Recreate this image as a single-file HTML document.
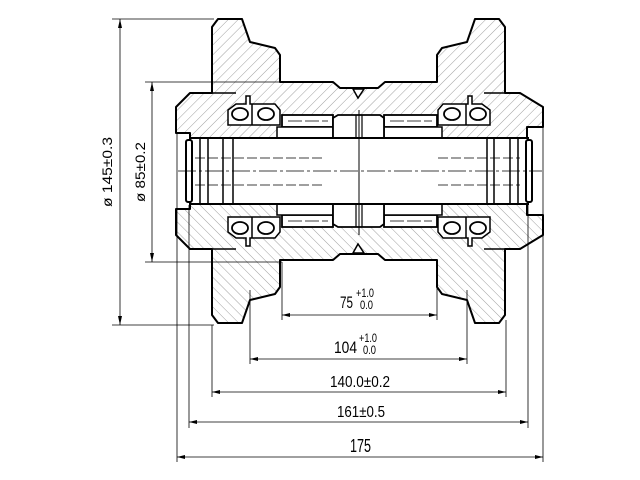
<!DOCTYPE html>
<html><head><meta charset="utf-8"><style>
html,body{margin:0;padding:0;background:#fff}
svg{display:block}
text{font-family:"Liberation Sans",sans-serif;fill:#000}
</style></head><body>
<svg width="640" height="480" viewBox="0 0 640 480" xmlns="http://www.w3.org/2000/svg">
<defs>
<pattern id="h" width="7" height="7" patternUnits="userSpaceOnUse" patternTransform="rotate(45)">
<line x1="0" y1="0" x2="0" y2="7" stroke="#888" stroke-width="0.8"/>
</pattern>
<g id="half">
  <path d="M212,27 L218,19 L242,19 L250,42 L275,48 L280,55 L280,82 L333,82 L340,88 L378,88 L385,82 L437,82 L437,55 L442,48 L467,42 L475,19 L499,19 L505,27 L505,93 L520,93 L543,107 L543,127 L527,127 L527,138 L190,138 L190,133 L176,133 L176,107 L190,93 L212,93 Z" fill="url(#h)" stroke="#000" stroke-width="2" stroke-linejoin="round"/>
  <line x1="212" y1="93" x2="236" y2="93" stroke="#000" stroke-width="1.5"/>
  <line x1="505" y1="93" x2="484" y2="93" stroke="#000" stroke-width="1.5"/>
  <path d="M228,125 L228,110 L236,104 L246,104 L246,96 L250,96 L250,104 L275,104 L280,110 L280,125 Z" fill="#fff" stroke="#000" stroke-width="1.5"/>
  <line x1="252" y1="104" x2="252" y2="125" stroke="#000" stroke-width="1.5"/>
  <ellipse cx="240" cy="114" rx="8" ry="6" fill="#fff" stroke="#000" stroke-width="1.8"/>
  <ellipse cx="266" cy="114" rx="8" ry="6" fill="#fff" stroke="#000" stroke-width="1.8"/>
  <path d="M490,125 L490,110 L482,104 L472,104 L472,96 L468,96 L468,104 L443,104 L438,110 L438,125 Z" fill="#fff" stroke="#000" stroke-width="1.5"/>
  <line x1="466" y1="104" x2="466" y2="125" stroke="#000" stroke-width="1.5"/>
  <ellipse cx="478" cy="114" rx="8" ry="6" fill="#fff" stroke="#000" stroke-width="1.8"/>
  <ellipse cx="452" cy="114" rx="8" ry="6" fill="#fff" stroke="#000" stroke-width="1.8"/>
  <rect x="282" y="115" width="51" height="12" fill="#fff" stroke="#000" stroke-width="1.8"/>
  <rect x="277" y="127" width="56" height="11" fill="#fff" stroke="#000" stroke-width="1.5"/>
  <line x1="288" y1="121" x2="328" y2="121" stroke="#000" stroke-width="0.8" stroke-dasharray="14,3"/>
  <rect x="384" y="115" width="53" height="12" fill="#fff" stroke="#000" stroke-width="1.8"/>
  <rect x="384" y="127" width="58" height="11" fill="#fff" stroke="#000" stroke-width="1.5"/>
  <line x1="390" y1="121" x2="432" y2="121" stroke="#000" stroke-width="0.8" stroke-dasharray="14,3"/>
  <path d="M333,138 L333,118 L338,115 L380,115 L384,118 L384,138 Z" fill="#fff" stroke="#000" stroke-width="1.8"/>
  <line x1="356" y1="115" x2="356" y2="138" stroke="#000" stroke-width="1.2"/>
  <line x1="362" y1="115" x2="362" y2="138" stroke="#000" stroke-width="1.2"/>
  <path d="M353,89 L364,89 L358,98 Z" fill="#fff" stroke="#000" stroke-width="1.5"/>
</g>
</defs>

<use href="#half"/>
<use href="#half" transform="matrix(1,0,0,-1,0,342)"/>

<rect x="190" y="138" width="338" height="66" fill="#fff" stroke="#000" stroke-width="2"/>
<rect x="186" y="140" width="6" height="62" rx="2" fill="#fff" stroke="#000" stroke-width="2"/>
<rect x="526" y="140" width="6" height="62" rx="2" fill="#fff" stroke="#000" stroke-width="2"/>
<g stroke="#000" stroke-width="1.5">
<line x1="200" y1="138" x2="200" y2="204"/><line x1="208" y1="138" x2="208" y2="204"/>
<line x1="223" y1="138" x2="223" y2="204"/><line x1="233" y1="138" x2="233" y2="204"/>
<line x1="487" y1="138" x2="487" y2="204"/><line x1="494" y1="138" x2="494" y2="204"/>
<line x1="510" y1="138" x2="510" y2="204"/><line x1="518" y1="138" x2="518" y2="204"/>
</g>
<g stroke="#000" stroke-width="0.8" stroke-dasharray="10,3" fill="none">
<line x1="195" y1="158" x2="325" y2="158"/><line x1="195" y1="185" x2="325" y2="185"/>
<line x1="438" y1="158" x2="520" y2="158"/><line x1="438" y1="185" x2="520" y2="185"/>
</g>
<line x1="178" y1="171" x2="542" y2="171" stroke="#000" stroke-width="0.8" stroke-dasharray="18,3,3,3"/>
<line x1="359" y1="110" x2="359" y2="235" stroke="#000" stroke-width="1"/>

<g stroke="#000" stroke-width="0.8" fill="none">
<line x1="112" y1="19" x2="214" y2="19"/><line x1="112" y1="325" x2="214" y2="325"/>
<line x1="120" y1="19" x2="120" y2="325"/>
<line x1="145" y1="82" x2="282" y2="82"/><line x1="145" y1="262" x2="282" y2="262"/>
<line x1="152" y1="82" x2="152" y2="262"/>
<line x1="282" y1="262" x2="282" y2="320"/><line x1="437" y1="262" x2="437" y2="320"/>
<line x1="282" y1="315" x2="437" y2="315"/>
<line x1="250" y1="290" x2="250" y2="364"/><line x1="467" y1="290" x2="467" y2="364"/>
<line x1="250" y1="359" x2="467" y2="359"/>
<line x1="212" y1="325" x2="212" y2="397"/><line x1="506" y1="320" x2="506" y2="397"/>
<line x1="212" y1="392" x2="506" y2="392"/>
<line x1="189" y1="205" x2="189" y2="428"/><line x1="528" y1="205" x2="528" y2="428"/>
<line x1="189" y1="422" x2="528" y2="422"/>
<line x1="177" y1="133" x2="177" y2="462"/><line x1="543" y1="127" x2="543" y2="462"/>
<line x1="177" y1="457" x2="543" y2="457"/>
</g>
<g fill="#000">
<path d="M120,19 l-2,9 h4 z"/><path d="M120,325 l-2,-9 h4 z"/>
<path d="M152,82 l-2,9 h4 z"/><path d="M152,262 l-2,-9 h4 z"/>
<path d="M282,315 l8,-2 v4 z"/><path d="M437,315 l-8,-2 v4 z"/>
<path d="M250,359 l8,-2 v4 z"/><path d="M467,359 l-8,-2 v4 z"/>
<path d="M212,392 l8,-2 v4 z"/><path d="M506,392 l-8,-2 v4 z"/>
<path d="M189,422 l8,-2 v4 z"/><path d="M528,422 l-8,-2 v4 z"/>
<path d="M177,457 l8,-2 v4 z"/><path d="M543,457 l-8,-2 v4 z"/>
</g>

<text x="112" y="172" font-size="14" text-anchor="middle" transform="rotate(-90 112 172)" textLength="70" lengthAdjust="spacingAndGlyphs">ø 145±0.3</text>
<text x="145" y="172" font-size="14" text-anchor="middle" transform="rotate(-90 145 172)" textLength="60" lengthAdjust="spacingAndGlyphs">ø 85±0.2</text>
<text x="340" y="308" font-size="17" textLength="13" lengthAdjust="spacingAndGlyphs">75</text>
<text x="356" y="297" font-size="12" textLength="18" lengthAdjust="spacingAndGlyphs">+1.0</text>
<text x="360" y="309" font-size="12" textLength="13" lengthAdjust="spacingAndGlyphs">0.0</text>
<text x="334" y="353" font-size="17" textLength="23" lengthAdjust="spacingAndGlyphs">104</text>
<text x="359" y="342" font-size="12" textLength="18" lengthAdjust="spacingAndGlyphs">+1.0</text>
<text x="363" y="354" font-size="12" textLength="13" lengthAdjust="spacingAndGlyphs">0.0</text>
<text x="330" y="387" font-size="16" textLength="60" lengthAdjust="spacingAndGlyphs">140.0±0.2</text>
<text x="337" y="417" font-size="16" textLength="48" lengthAdjust="spacingAndGlyphs">161±0.5</text>
<text x="350" y="452" font-size="18" textLength="21" lengthAdjust="spacingAndGlyphs">175</text>
</svg>
</body></html>
